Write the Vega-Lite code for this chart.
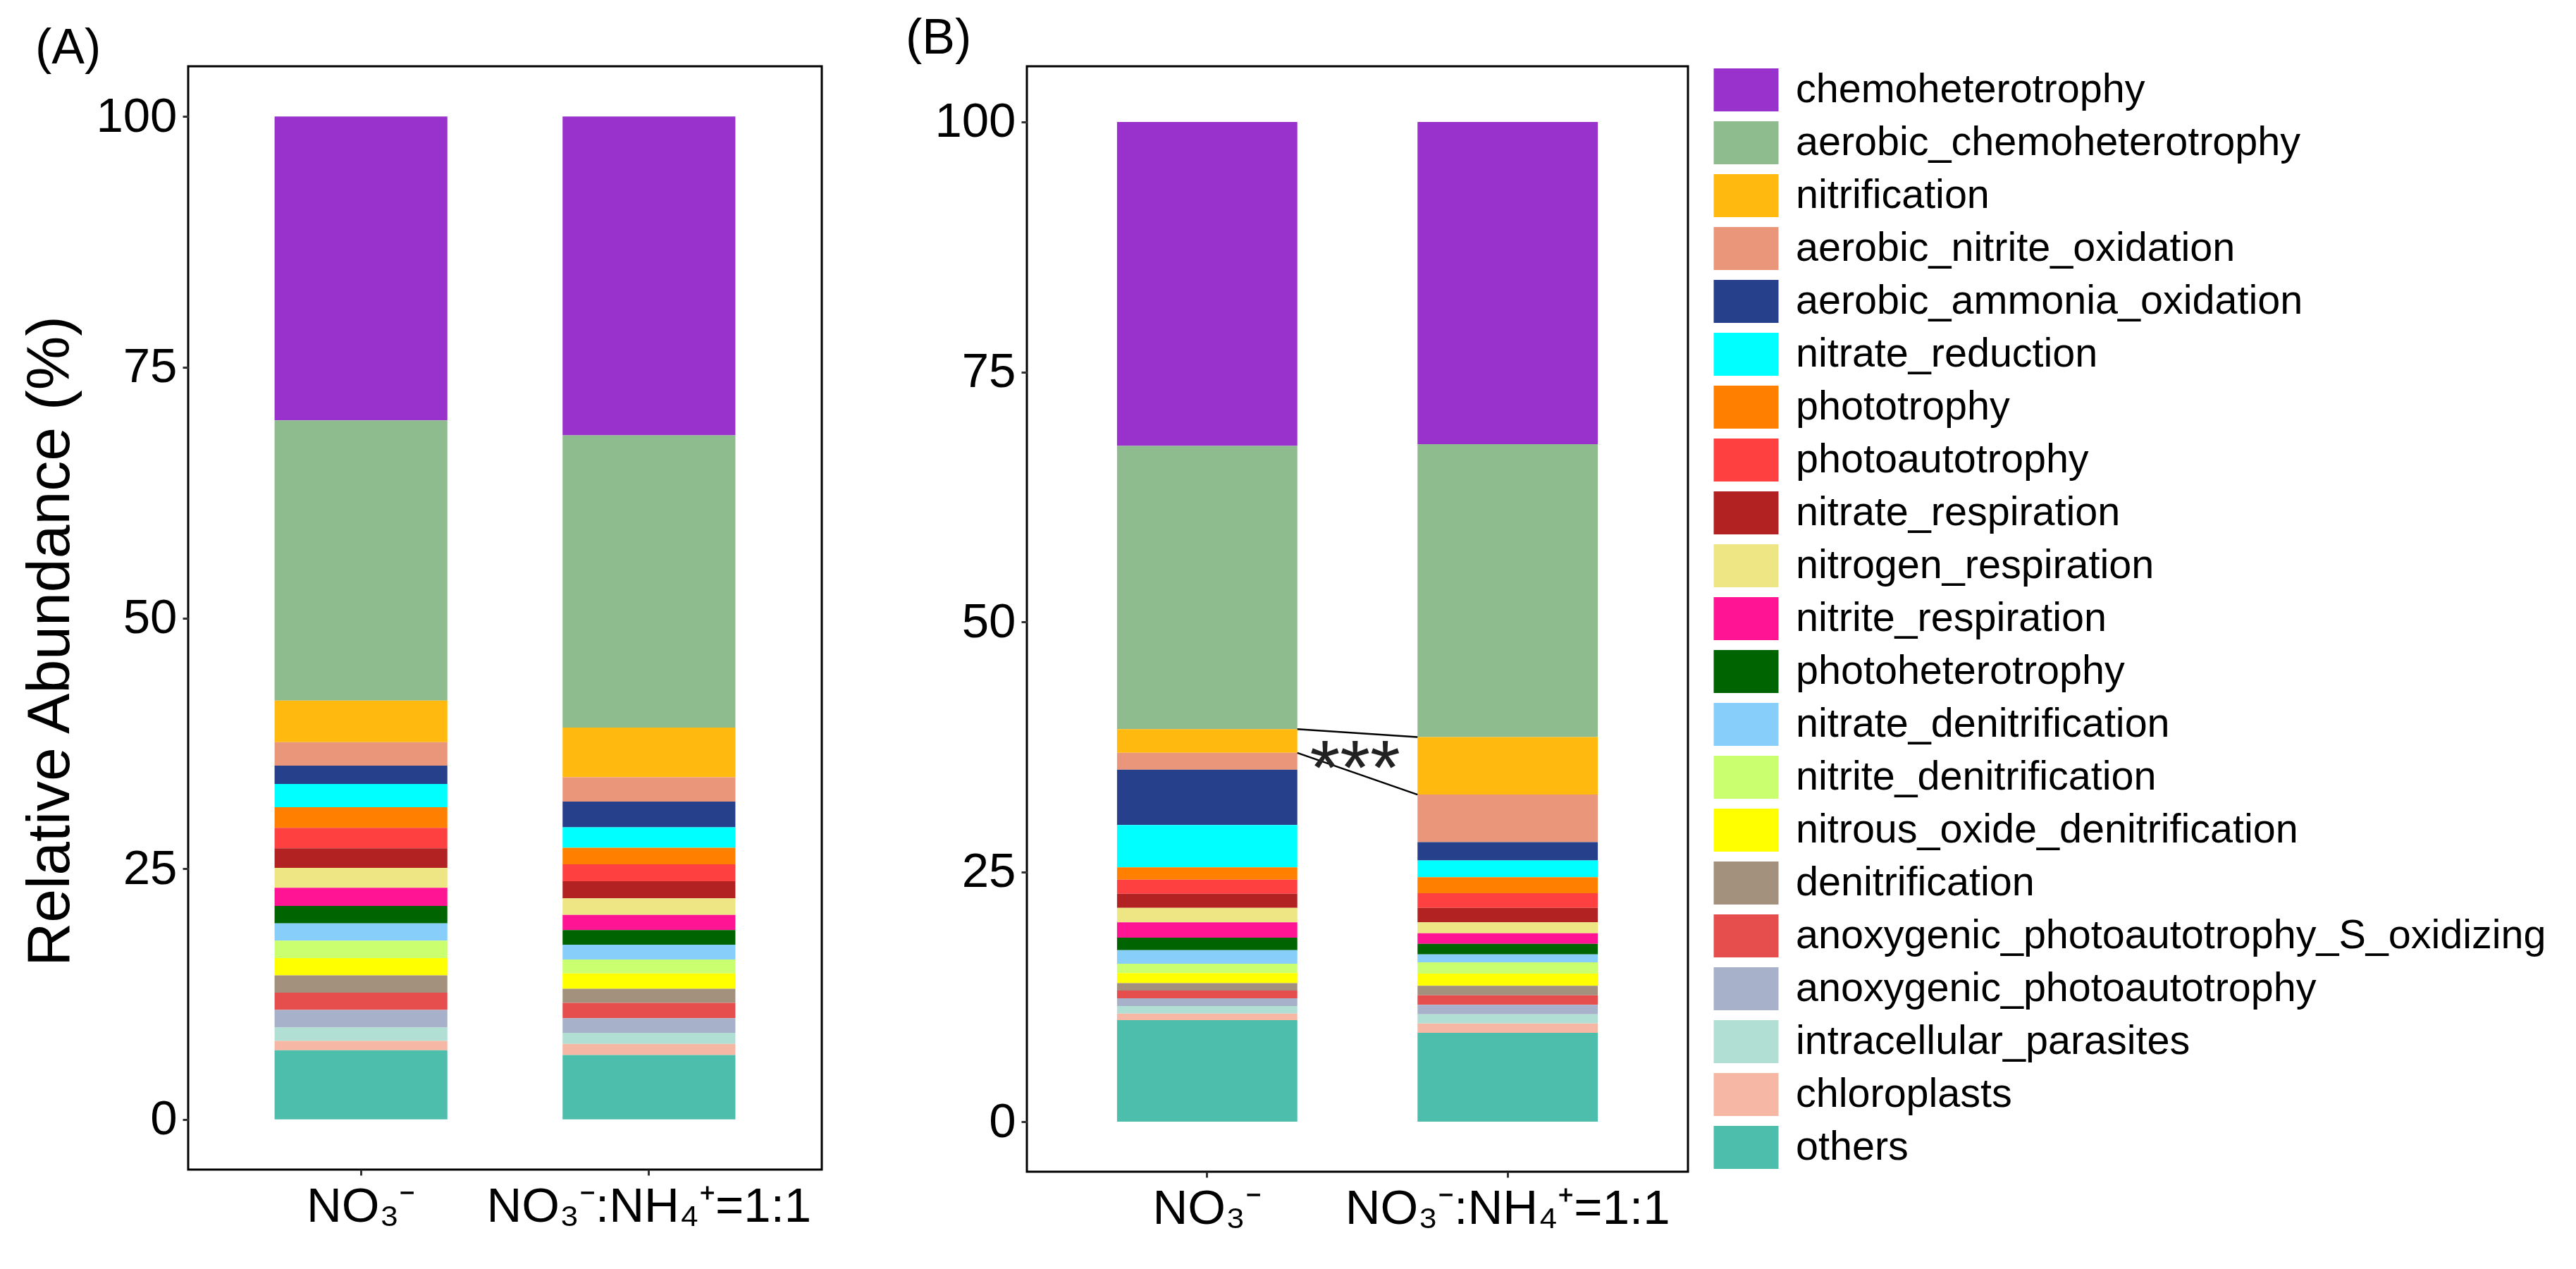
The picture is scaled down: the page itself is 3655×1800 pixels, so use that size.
{
  "$schema": "https://vega.github.io/schema/vega-lite/v6.json",
  "padding": {"left": 27, "top": 18, "right": 30, "bottom": 5},
  "background": "white",
  "datasets": {
    "abund": [
      {"panel": "A", "treat": "NO₃⁻", "func": "chemoheterotrophy", "value": 30.3},
      {"panel": "A", "treat": "NO₃⁻", "func": "aerobic_chemoheterotrophy", "value": 27.94},
      {"panel": "A", "treat": "NO₃⁻", "func": "nitrification", "value": 4.14},
      {"panel": "A", "treat": "NO₃⁻", "func": "aerobic_nitrite_oxidation", "value": 2.34},
      {"panel": "A", "treat": "NO₃⁻", "func": "aerobic_ammonia_oxidation", "value": 1.83},
      {"panel": "A", "treat": "NO₃⁻", "func": "nitrate_reduction", "value": 2.32},
      {"panel": "A", "treat": "NO₃⁻", "func": "phototrophy", "value": 2.06},
      {"panel": "A", "treat": "NO₃⁻", "func": "photoautotrophy", "value": 2.04},
      {"panel": "A", "treat": "NO₃⁻", "func": "nitrate_respiration", "value": 1.94},
      {"panel": "A", "treat": "NO₃⁻", "func": "nitrogen_respiration", "value": 1.99},
      {"panel": "A", "treat": "NO₃⁻", "func": "nitrite_respiration", "value": 1.81},
      {"panel": "A", "treat": "NO₃⁻", "func": "photoheterotrophy", "value": 1.75},
      {"panel": "A", "treat": "NO₃⁻", "func": "nitrate_denitrification", "value": 1.71},
      {"panel": "A", "treat": "NO₃⁻", "func": "nitrite_denitrification", "value": 1.74},
      {"panel": "A", "treat": "NO₃⁻", "func": "nitrous_oxide_denitrification", "value": 1.73},
      {"panel": "A", "treat": "NO₃⁻", "func": "denitrification", "value": 1.71},
      {"panel": "A", "treat": "NO₃⁻", "func": "anoxygenic_photoautotrophy_S_oxidizing", "value": 1.73},
      {"panel": "A", "treat": "NO₃⁻", "func": "anoxygenic_photoautotrophy", "value": 1.76},
      {"panel": "A", "treat": "NO₃⁻", "func": "intracellular_parasites", "value": 1.34},
      {"panel": "A", "treat": "NO₃⁻", "func": "chloroplasts", "value": 0.93},
      {"panel": "A", "treat": "NO₃⁻", "func": "others", "value": 6.89},
      {"panel": "A", "treat": "NO₃⁻:NH₄⁺=1:1", "func": "chemoheterotrophy", "value": 31.8},
      {"panel": "A", "treat": "NO₃⁻:NH₄⁺=1:1", "func": "aerobic_chemoheterotrophy", "value": 29.13},
      {"panel": "A", "treat": "NO₃⁻:NH₄⁺=1:1", "func": "nitrification", "value": 4.96},
      {"panel": "A", "treat": "NO₃⁻:NH₄⁺=1:1", "func": "aerobic_nitrite_oxidation", "value": 2.42},
      {"panel": "A", "treat": "NO₃⁻:NH₄⁺=1:1", "func": "aerobic_ammonia_oxidation", "value": 2.57},
      {"panel": "A", "treat": "NO₃⁻:NH₄⁺=1:1", "func": "nitrate_reduction", "value": 2.04},
      {"panel": "A", "treat": "NO₃⁻:NH₄⁺=1:1", "func": "phototrophy", "value": 1.64},
      {"panel": "A", "treat": "NO₃⁻:NH₄⁺=1:1", "func": "photoautotrophy", "value": 1.69},
      {"panel": "A", "treat": "NO₃⁻:NH₄⁺=1:1", "func": "nitrate_respiration", "value": 1.71},
      {"panel": "A", "treat": "NO₃⁻:NH₄⁺=1:1", "func": "nitrogen_respiration", "value": 1.64},
      {"panel": "A", "treat": "NO₃⁻:NH₄⁺=1:1", "func": "nitrite_respiration", "value": 1.52},
      {"panel": "A", "treat": "NO₃⁻:NH₄⁺=1:1", "func": "photoheterotrophy", "value": 1.45},
      {"panel": "A", "treat": "NO₃⁻:NH₄⁺=1:1", "func": "nitrate_denitrification", "value": 1.48},
      {"panel": "A", "treat": "NO₃⁻:NH₄⁺=1:1", "func": "nitrite_denitrification", "value": 1.40},
      {"panel": "A", "treat": "NO₃⁻:NH₄⁺=1:1", "func": "nitrous_oxide_denitrification", "value": 1.53},
      {"panel": "A", "treat": "NO₃⁻:NH₄⁺=1:1", "func": "denitrification", "value": 1.40},
      {"panel": "A", "treat": "NO₃⁻:NH₄⁺=1:1", "func": "anoxygenic_photoautotrophy_S_oxidizing", "value": 1.52},
      {"panel": "A", "treat": "NO₃⁻:NH₄⁺=1:1", "func": "anoxygenic_photoautotrophy", "value": 1.46},
      {"panel": "A", "treat": "NO₃⁻:NH₄⁺=1:1", "func": "intracellular_parasites", "value": 1.12},
      {"panel": "A", "treat": "NO₃⁻:NH₄⁺=1:1", "func": "chloroplasts", "value": 1.10},
      {"panel": "A", "treat": "NO₃⁻:NH₄⁺=1:1", "func": "others", "value": 6.42},
      {"panel": "B", "treat": "NO₃⁻", "func": "chemoheterotrophy", "value": 32.4},
      {"panel": "B", "treat": "NO₃⁻", "func": "aerobic_chemoheterotrophy", "value": 28.34},
      {"panel": "B", "treat": "NO₃⁻", "func": "nitrification", "value": 2.36},
      {"panel": "B", "treat": "NO₃⁻", "func": "aerobic_nitrite_oxidation", "value": 1.69},
      {"panel": "B", "treat": "NO₃⁻", "func": "aerobic_ammonia_oxidation", "value": 5.54},
      {"panel": "B", "treat": "NO₃⁻", "func": "nitrate_reduction", "value": 4.23},
      {"panel": "B", "treat": "NO₃⁻", "func": "phototrophy", "value": 1.23},
      {"panel": "B", "treat": "NO₃⁻", "func": "photoautotrophy", "value": 1.41},
      {"panel": "B", "treat": "NO₃⁻", "func": "nitrate_respiration", "value": 1.41},
      {"panel": "B", "treat": "NO₃⁻", "func": "nitrogen_respiration", "value": 1.45},
      {"panel": "B", "treat": "NO₃⁻", "func": "nitrite_respiration", "value": 1.53},
      {"panel": "B", "treat": "NO₃⁻", "func": "photoheterotrophy", "value": 1.25},
      {"panel": "B", "treat": "NO₃⁻", "func": "nitrate_denitrification", "value": 1.36},
      {"panel": "B", "treat": "NO₃⁻", "func": "nitrite_denitrification", "value": 0.94},
      {"panel": "B", "treat": "NO₃⁻", "func": "nitrous_oxide_denitrification", "value": 0.99},
      {"panel": "B", "treat": "NO₃⁻", "func": "denitrification", "value": 0.75},
      {"panel": "B", "treat": "NO₃⁻", "func": "anoxygenic_photoautotrophy_S_oxidizing", "value": 0.78},
      {"panel": "B", "treat": "NO₃⁻", "func": "anoxygenic_photoautotrophy", "value": 0.77},
      {"panel": "B", "treat": "NO₃⁻", "func": "intracellular_parasites", "value": 0.76},
      {"panel": "B", "treat": "NO₃⁻", "func": "chloroplasts", "value": 0.65},
      {"panel": "B", "treat": "NO₃⁻", "func": "others", "value": 10.16},
      {"panel": "B", "treat": "NO₃⁻:NH₄⁺=1:1", "func": "chemoheterotrophy", "value": 32.23},
      {"panel": "B", "treat": "NO₃⁻:NH₄⁺=1:1", "func": "aerobic_chemoheterotrophy", "value": 29.29},
      {"panel": "B", "treat": "NO₃⁻:NH₄⁺=1:1", "func": "nitrification", "value": 5.76},
      {"panel": "B", "treat": "NO₃⁻:NH₄⁺=1:1", "func": "aerobic_nitrite_oxidation", "value": 4.75},
      {"panel": "B", "treat": "NO₃⁻:NH₄⁺=1:1", "func": "aerobic_ammonia_oxidation", "value": 1.83},
      {"panel": "B", "treat": "NO₃⁻:NH₄⁺=1:1", "func": "nitrate_reduction", "value": 1.69},
      {"panel": "B", "treat": "NO₃⁻:NH₄⁺=1:1", "func": "phototrophy", "value": 1.60},
      {"panel": "B", "treat": "NO₃⁻:NH₄⁺=1:1", "func": "photoautotrophy", "value": 1.46},
      {"panel": "B", "treat": "NO₃⁻:NH₄⁺=1:1", "func": "nitrate_respiration", "value": 1.45},
      {"panel": "B", "treat": "NO₃⁻:NH₄⁺=1:1", "func": "nitrogen_respiration", "value": 1.09},
      {"panel": "B", "treat": "NO₃⁻:NH₄⁺=1:1", "func": "nitrite_respiration", "value": 1.06},
      {"panel": "B", "treat": "NO₃⁻:NH₄⁺=1:1", "func": "photoheterotrophy", "value": 1.05},
      {"panel": "B", "treat": "NO₃⁻:NH₄⁺=1:1", "func": "nitrate_denitrification", "value": 0.80},
      {"panel": "B", "treat": "NO₃⁻:NH₄⁺=1:1", "func": "nitrite_denitrification", "value": 1.13},
      {"panel": "B", "treat": "NO₃⁻:NH₄⁺=1:1", "func": "nitrous_oxide_denitrification", "value": 1.22},
      {"panel": "B", "treat": "NO₃⁻:NH₄⁺=1:1", "func": "denitrification", "value": 0.94},
      {"panel": "B", "treat": "NO₃⁻:NH₄⁺=1:1", "func": "anoxygenic_photoautotrophy_S_oxidizing", "value": 0.96},
      {"panel": "B", "treat": "NO₃⁻:NH₄⁺=1:1", "func": "anoxygenic_photoautotrophy", "value": 0.95},
      {"panel": "B", "treat": "NO₃⁻:NH₄⁺=1:1", "func": "intracellular_parasites", "value": 0.92},
      {"panel": "B", "treat": "NO₃⁻:NH₄⁺=1:1", "func": "chloroplasts", "value": 0.93},
      {"panel": "B", "treat": "NO₃⁻:NH₄⁺=1:1", "func": "others", "value": 8.89}
    ],
    "funcs": [
      {"func": "chemoheterotrophy", "rank": 21},
      {"func": "aerobic_chemoheterotrophy", "rank": 20},
      {"func": "nitrification", "rank": 19},
      {"func": "aerobic_nitrite_oxidation", "rank": 18},
      {"func": "aerobic_ammonia_oxidation", "rank": 17},
      {"func": "nitrate_reduction", "rank": 16},
      {"func": "phototrophy", "rank": 15},
      {"func": "photoautotrophy", "rank": 14},
      {"func": "nitrate_respiration", "rank": 13},
      {"func": "nitrogen_respiration", "rank": 12},
      {"func": "nitrite_respiration", "rank": 11},
      {"func": "photoheterotrophy", "rank": 10},
      {"func": "nitrate_denitrification", "rank": 9},
      {"func": "nitrite_denitrification", "rank": 8},
      {"func": "nitrous_oxide_denitrification", "rank": 7},
      {"func": "denitrification", "rank": 6},
      {"func": "anoxygenic_photoautotrophy_S_oxidizing", "rank": 5},
      {"func": "anoxygenic_photoautotrophy", "rank": 4},
      {"func": "intracellular_parasites", "rank": 3},
      {"func": "chloroplasts", "rank": 2},
      {"func": "others", "rank": 1}
    ],
    "signif": [
      {"from": "NO₃⁻", "to": "NO₃⁻:NH₄⁺=1:1", "y1": 39.26, "y2": 38.48},
      {"from": "NO₃⁻", "to": "NO₃⁻:NH₄⁺=1:1", "y1": 36.90, "y2": 32.72}
    ],
    "stars": [
      {"from": "NO₃⁻", "label": "***", "y": 32.8}
    ]
  },
  "hconcat": [
    {
      "width": 899,
      "height": 1565,
      "title": {"text": "(A)", "anchor": "start", "frame": "group", "dx": -217, "dy": 66, "offset": 0, "baseline": "alphabetic", "fontSize": 70, "font": "Liberation Sans", "fontWeight": "normal", "color": "black"},
      "data": {"name": "abund"},
      "transform": [
        {"filter": "datum.panel === 'A'"},
        {"lookup": "func", "from": {"data": {"name": "funcs"}, "key": "func", "fields": ["rank"]}}
      ],
      "mark": {"type": "bar"},
      "encoding": {
        "x": {"field": "treat", "type": "nominal", "sort": ["NO₃⁻", "NO₃⁻:NH₄⁺=1:1"],
              "scale": {"paddingInner": 0.4, "paddingOuter": 0.3},
              "axis": {"title": null, "labelAngle": 0, "labelFontSize": 69, "labelPadding": 10, "labelLimit": 2000}},
        "y": {"field": "value", "type": "quantitative", "stack": "zero",
              "scale": {"domain": [-5, 105], "nice": false, "zero": false},
              "axis": {"values": [0, 25, 50, 75, 100], "title": "Relative Abundance (%)", "titleFontSize": 86, "titlePadding": 20, "titleY": 815, "titleFont": "Liberation Sans", "titleFontWeight": "normal", "titleColor": "black"}},
        "color": {"field": "func", "type": "nominal",
                  "scale": {"domain": ["chemoheterotrophy", "aerobic_chemoheterotrophy", "nitrification", "aerobic_nitrite_oxidation", "aerobic_ammonia_oxidation", "nitrate_reduction", "phototrophy", "photoautotrophy", "nitrate_respiration", "nitrogen_respiration", "nitrite_respiration", "photoheterotrophy", "nitrate_denitrification", "nitrite_denitrification", "nitrous_oxide_denitrification", "denitrification", "anoxygenic_photoautotrophy_S_oxidizing", "anoxygenic_photoautotrophy", "intracellular_parasites", "chloroplasts", "others"],
                            "range": ["#9932CC", "#8FBC8F", "#FFB90F", "#E9967A", "#27408B", "#00FFFF", "#FF7F00", "#FF4040", "#B22222", "#EEE685", "#FF1493", "#006400", "#87CEFA", "#CAFF70", "#FFFF00", "#A3917E", "#E64E4E", "#A7B1CA", "#B2DFD4", "#F6B7A4", "#4DBEAC"]},
                  "legend": {"title": null}},
        "order": {"field": "rank", "type": "quantitative"}
      }
    },
    {
      "width": 938,
      "height": 1568,
      "title": {"text": "(B)", "anchor": "start", "frame": "group", "dx": -172, "dy": 52, "offset": 0, "baseline": "alphabetic", "fontSize": 70, "font": "Liberation Sans", "fontWeight": "normal", "color": "black"},
      "layer": [
        {
          "data": {"name": "abund"},
          "transform": [
            {"filter": "datum.panel === 'B'"},
            {"lookup": "func", "from": {"data": {"name": "funcs"}, "key": "func", "fields": ["rank"]}}
          ],
          "mark": {"type": "bar"},
          "encoding": {
            "x": {"field": "treat", "type": "nominal", "sort": ["NO₃⁻", "NO₃⁻:NH₄⁺=1:1"],
                  "scale": {"paddingInner": 0.4, "paddingOuter": 0.3},
                  "axis": {"title": null, "labelAngle": 0, "labelFontSize": 69, "labelPadding": 10, "labelLimit": 2000}},
            "y": {"field": "value", "type": "quantitative", "stack": "zero",
                  "scale": {"domain": [-5, 105.57], "nice": false, "zero": false},
                  "axis": {"values": [0, 25, 50, 75, 100], "title": null}},
            "color": {"field": "func", "type": "nominal", "legend": {"title": null}},
            "order": {"field": "rank", "type": "quantitative"}
          }
        },
        {
          "data": {"name": "signif"},
          "mark": {"type": "rule", "color": "black", "strokeWidth": 2.5},
          "encoding": {
            "x": {"field": "from", "type": "nominal", "bandPosition": 1, "sort": ["NO₃⁻", "NO₃⁻:NH₄⁺=1:1"]},
            "x2": {"field": "to", "bandPosition": 0},
            "y": {"field": "y1", "type": "quantitative"},
            "y2": {"field": "y2"}
          }
        },
        {
          "data": {"name": "stars"},
          "mark": {"type": "text", "fontSize": 110, "font": "Liberation Sans", "color": "#222222", "align": "center", "baseline": "alphabetic", "dx": 82},
          "encoding": {
            "x": {"field": "from", "type": "nominal", "bandPosition": 1, "sort": ["NO₃⁻", "NO₃⁻:NH₄⁺=1:1"]},
            "y": {"field": "y", "type": "quantitative"},
            "text": {"field": "label"}
          }
        }
      ]
    }
  ],
  "spacing": 291,
  "bounds": "flush",
  "resolve": {"scale": {"color": "shared"}},
  "config": {
    "font": "Liberation Sans",
    "view": {"stroke": "black", "strokeWidth": 3},
    "axis": {"domain": false, "grid": false, "tickColor": "#333333", "tickSize": 8, "tickWidth": 3, "labelColor": "black", "labelFontSize": 69, "labelPadding": 8, "labelFont": "Liberation Sans"},
    "legend": {"orient": "right", "offset": 47, "padding": -11, "labelFontSize": 57.5, "labelFont": "Liberation Sans", "labelColor": "black", "symbolType": "M-1.043,-0.6916H1.043V0.6916H-1.043Z", "symbolSize": 7779, "symbolStrokeWidth": 0, "symbolOpacity": 1, "rowPadding": 0, "labelOffset": 26, "labelLimit": 2000},
    "title": {"fontWeight": "normal"}
  }
}
